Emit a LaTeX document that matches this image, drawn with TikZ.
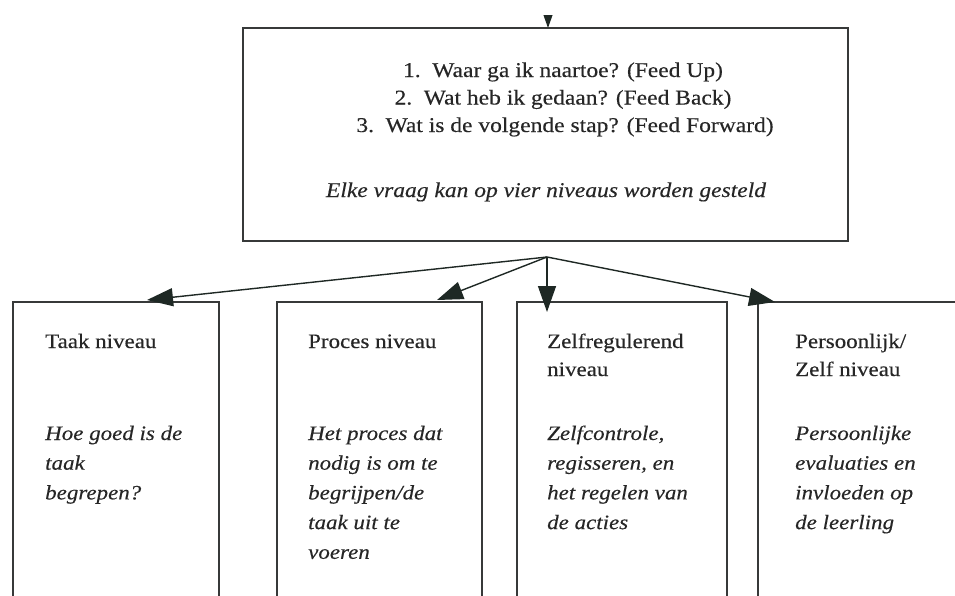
\documentclass[tikz,border=0pt]{standalone}
\usepackage{fontspec}
\setmainfont{Liberation Serif}[FakeStretch=1.12,FakeBold=0.3]
\usetikzlibrary{arrows.meta}
\definecolor{ln}{RGB}{55,57,57}
\definecolor{tx}{RGB}{38,38,38}
\definecolor{hd}{RGB}{30,40,36}
\begin{document}
\begin{tikzpicture}[x=1pt,y=-1pt,
  box/.style={draw=ln, line width=1.6pt, inner sep=0pt, outer sep=0pt, anchor=north west},
  arr/.style={draw=hd, line width=1.4pt, -{Triangle[length=26pt,width=18pt]}},
  txt/.style={inner sep=0pt, anchor=base west, text=tx, font=\fontsize{20.5}{24}\selectfont},
  itx/.style={txt, font=\fontsize{20.5}{24}\selectfont\itshape},
  ctx/.style={inner sep=0pt, anchor=base, text=tx, font=\fontsize{21}{24}\selectfont}]
\useasboundingbox (0,0) rectangle (955,595);
% boxes
\node[box, minimum width=605pt, minimum height=213pt] (top) at (243,28) {};
\node[box, minimum width=206pt, minimum height=330pt] (b1) at (13,302) {};
\node[box, minimum width=205pt, minimum height=330pt] (b2) at (277,302) {};
\node[box, minimum width=210pt, minimum height=330pt] (b3) at (517,302) {};
\node[box, minimum width=260pt, minimum height=330pt] (b4) at (758,302) {};
% top box text
\node[ctx] (q1) at (563,77) {1.\hspace{0.55em}Waar ga ik naartoe? (Feed Up)};
\node[ctx] (q2) at (563,104.5) {2.\hspace{0.55em}Wat heb ik gedaan? (Feed Back)};
\node[ctx] (q3) at (565,132) {3.\hspace{0.55em}Wat is de volgende stap? (Feed Forward)};
\node[ctx, font=\fontsize{21}{24}\selectfont\itshape] (q4) at (546,197) {Elke vraag kan op vier niveaus worden gesteld};
% incoming arrow
\coordinate (in) at (548,-20);
\begin{scope}
\clip (0,15) rectangle (955,60);
\draw[arr] (in) -- (in |- top.north);
\end{scope}
% split
\coordinate (split) at (547,257);
\coordinate (t1) at (147,300);
\coordinate (t2) at (437,300);
\coordinate (t3) at (547,312);
\coordinate (t4) at (775,302);
\draw[arr] (split) -- (t1);
\draw[arr] (split) -- (t2);
\draw[arr] (split) -- (t3);
\draw[arr] (split) -- (t4);
% box texts
\node[txt] (h1) at (45,348) {Taak niveau};
\foreach \s [count=\i] in {Hoe goed is de, taak, begrepen?}
  \node[itx] (i1\i) at (45,{440+29.7*(\i-1)}) {\s};
\node[txt] (h2) at (308,348) {Proces niveau};
\foreach \s [count=\i] in {Het proces dat, nodig is om te, begrijpen/de, taak uit te, voeren}
  \node[itx] (i2\i) at (308,{440+29.7*(\i-1)}) {\s};
\node[txt] (h3a) at (547,348) {Zelfregulerend};
\node[txt] (h3b) at (547,376) {niveau};
\foreach \s [count=\i] in {Zelfcontrole{,}, regisseren{,} en, het regelen van, de acties}
  \node[itx] (i3\i) at (547,{440+29.7*(\i-1)}) {\s};
\node[txt] (h4a) at (795,348) {Persoonlijk/};
\node[txt] (h4b) at (795,376) {Zelf niveau};
\foreach \s [count=\i] in {Persoonlijke, evaluaties en, invloeden op, de leerling}
  \node[itx] (i4\i) at (795,{440+29.7*(\i-1)}) {\s};
\end{tikzpicture}
\end{document}
